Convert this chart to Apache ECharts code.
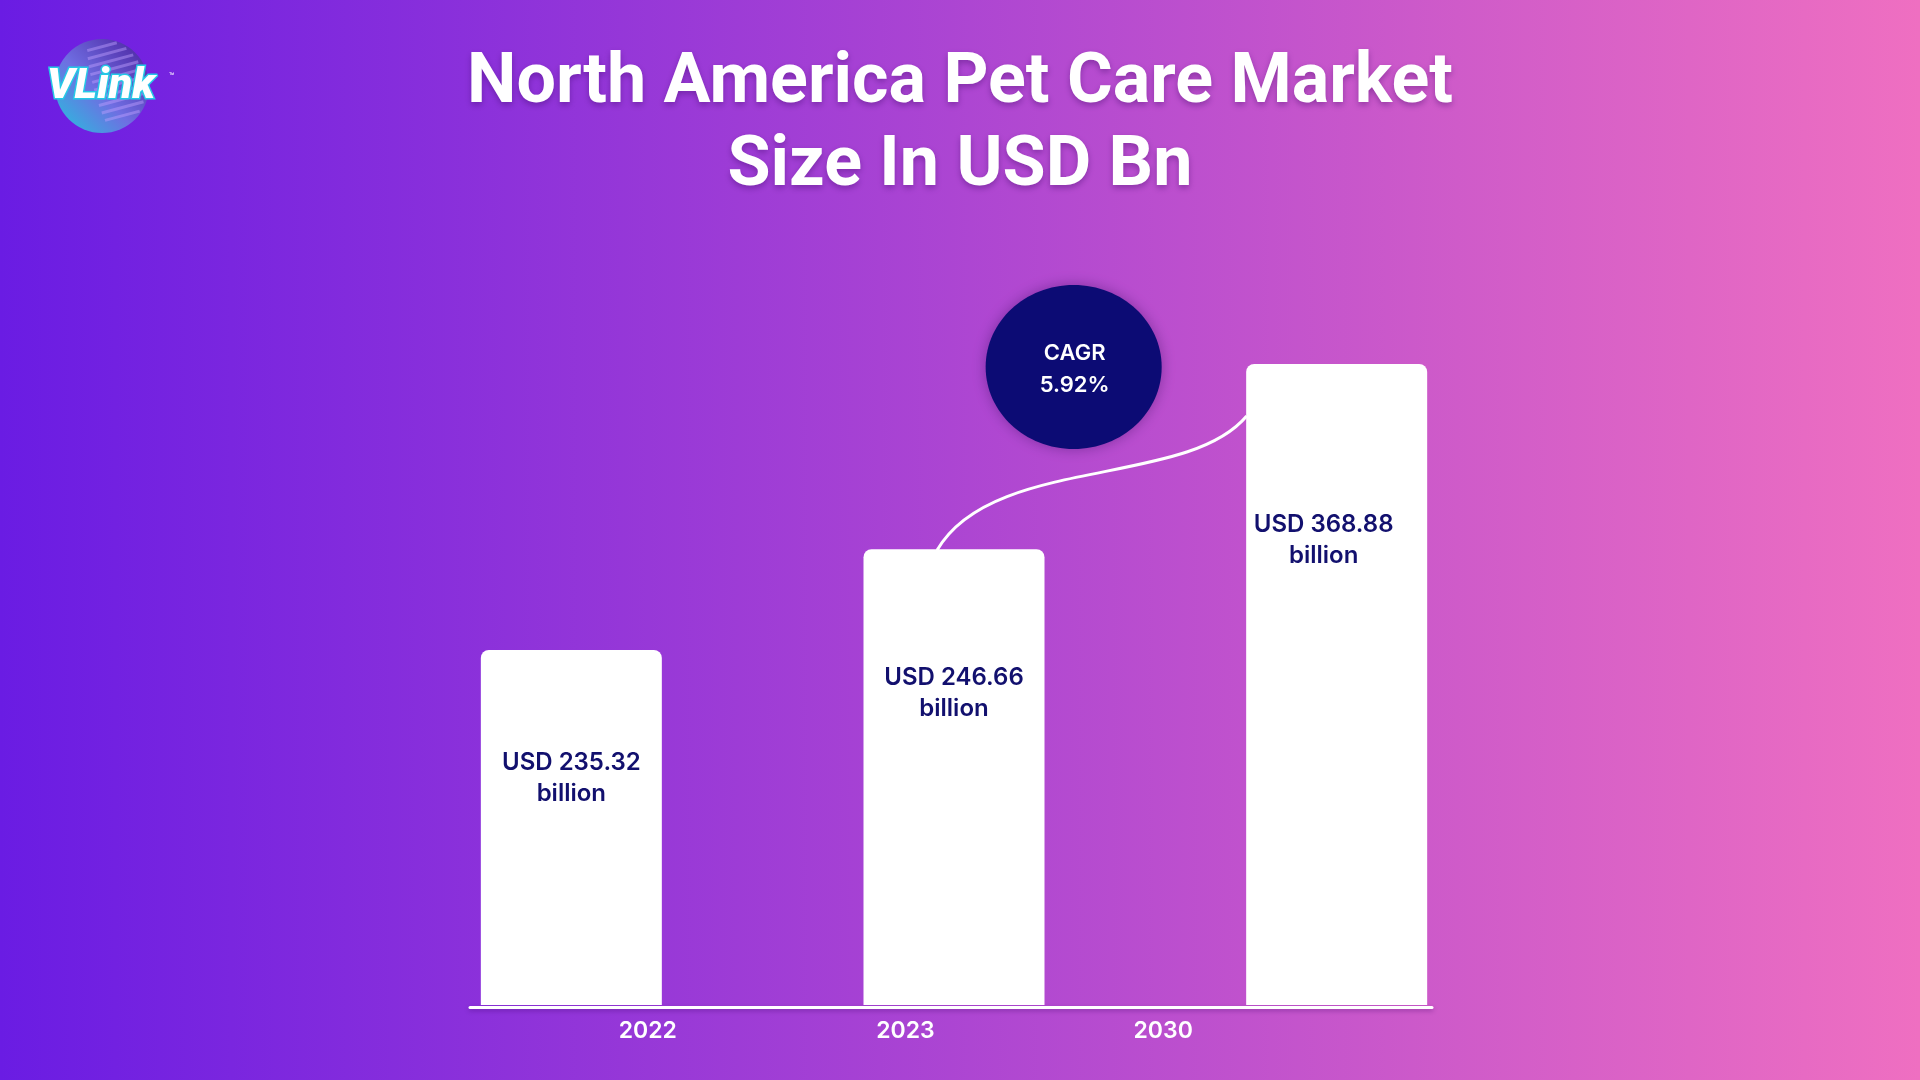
<!DOCTYPE html>
<html><head><meta charset="utf-8">
<script src="https://cdn.jsdelivr.net/npm/echarts@6/dist/echarts.min.js"></script>
<style>html,body{margin:0;padding:0;width:1920px;height:1080px;overflow:hidden}#c{width:1920px;height:1080px}</style>
</head><body><div id="c"></div>
<script>
// ---- data ----
const titleLines = ['North America Pet Care Market', 'Size In USD Bn'];
const categories = ['2022', '2023', '2030'];
const valuesUSDBn = [235.32, 246.66, 368.88];
const barLevels = [55.4, 71.1, 100];      // drawn bar heights, % of the tallest bar
const cagrLines = ['CAGR', '5.92%'];
const logoText = 'VLink';

// ---- layout (kept apart from data) ----
const labelDistance = [97, 113, 145];
const labelShift = [[0, 0], [0, 0], [-13, 0]];

const chart = echarts.init(document.getElementById('c'), null, {renderer: 'canvas'});

const navy = '#12106e';
const hidden = {show: false};

const option = {
  animation: false,
  title: {
    text: titleLines.join('\n'),
    left: 'center', top: 38,
    textStyle: {
      color: '#ffffff', fontFamily: 'Roboto', fontWeight: 'bold', fontSize: 70, lineHeight: 83,
      textShadowColor: 'rgba(50,0,90,0.35)', textShadowBlur: 6, textShadowOffsetY: 3
    }
  },
  grid: [
    {left: 380, width: 1148, top: 364, bottom: 75},
    {left: 470, width: 962, top: 364, bottom: 72.5},
    {left: 519, width: 773, top: 364, bottom: 72.5}
  ],
  xAxis: [
    {type: 'category', gridIndex: 0, data: categories, axisLine: hidden, axisTick: hidden, axisLabel: hidden},
    {type: 'value', gridIndex: 1, min: 0, max: 1, splitLine: hidden, axisTick: hidden, axisLabel: hidden,
     axisLine: {show: true, onZero: false, lineStyle: {color: '#ffffff', width: 3,
       shadowColor: 'rgba(60,0,100,0.35)', shadowBlur: 4, shadowOffsetY: 2}}},
    {type: 'category', gridIndex: 2, data: categories, axisLine: hidden, axisTick: hidden,
     axisLabel: {color: '#ffffff', fontFamily: 'Inter', fontWeight: 600, fontSize: 23, margin: 12}}
  ],
  yAxis: [
    {type: 'value', gridIndex: 0, min: 0, max: 100, show: false},
    {type: 'value', gridIndex: 1, min: 0, max: 1, show: false},
    {type: 'value', gridIndex: 2, min: 0, max: 1, show: false}
  ],
  series: [{
    type: 'bar',
    xAxisIndex: 0, yAxisIndex: 0,
    barWidth: 181,
    itemStyle: {color: '#ffffff', borderRadius: [8, 8, 0, 0]},
    data: barLevels.map((v, i) => ({
      value: v,
      label: {distance: labelDistance[i], offset: labelShift[i]}
    })),
    label: {
      show: true, position: 'insideTop',
      color: navy, fontFamily: 'Inter', fontWeight: 600, fontSize: 24, lineHeight: 31, align: 'center',
      formatter: p => 'USD ' + valuesUSDBn[p.dataIndex].toFixed(2) + '\nbillion'
    }
  }]
};
chart.setOption(option);

// decorations anchored to the bars' pixel positions
const p2 = chart.convertToPixel({seriesIndex: 0}, [1, barLevels[1]]);
const p3 = chart.convertToPixel({seriesIndex: 0}, [2, barLevels[2]]);
const start = [p2[0] - 17, p2[1] + 1];
const end = [p3[0] - 90, p3[1] + 52];
const cc = [p3[0] - 263, p3[1] + 3];

// logo stripes
const lc = [102, 86], lr = 47;
const ang = -15 * Math.PI / 180;
const u = [Math.cos(ang), Math.sin(ang)], n = [-Math.sin(ang), Math.cos(ang)];
const stripes = [];
for (let d = -38; d <= 38; d += 8) {
  const h = Math.sqrt(lr * lr - d * d) * 0.92;
  const m = [lc[0] + n[0] * d, lc[1] + n[1] * d];
  stripes.push({
    type: 'line', silent: true, z: 1,
    shape: {x1: m[0] - u[0] * h * 0.2, y1: m[1] - u[1] * h * 0.2, x2: m[0] + u[0] * h, y2: m[1] + u[1] * h},
    style: {stroke: 'rgba(190,160,255,0.45)', lineWidth: 3}
  });
}

chart.setOption({
  graphic: [
    {type: 'rect', z: -100, silent: true, shape: {x: 0, y: 0, width: 1920, height: 1080},
     style: {fill: {type: 'linear', x: 0, y: 0, x2: 1, y2: 0,
       colorStops: [{offset: 0, color: '#6a1ce3'}, {offset: 1, color: '#ef6fc1'}]}}},
    {type: 'circle', z: 0, silent: true, shape: {cx: lc[0], cy: lc[1], r: lr},
     style: {fill: {type: 'linear', x: 0, y: 1, x2: 1, y2: 0,
       colorStops: [{offset: 0, color: '#22c4de'}, {offset: 0.45, color: '#6f6ee2'}, {offset: 1, color: '#4a1e9c'}]}}},
    ...stripes,
    {type: 'text', z: 2, silent: true, x: 101, y: 87,
     style: {text: logoText, fill: '#ffffff', stroke: '#25c9e6', lineWidth: 3,
       fontFamily: 'Roboto', fontWeight: 900, fontStyle: 'italic', fontSize: 43,
       align: 'center', verticalAlign: 'middle'}},
    {type: 'text', z: 2, silent: true, x: 169, y: 72,
     style: {text: '™', fill: '#ffffff', fontSize: 9, fontFamily: 'Roboto'}},
    {type: 'bezierCurve', z: 1, silent: true,
     shape: {x1: start[0], y1: start[1], cpx1: start[0] + 55, cpy1: start[1] - 95,
             cpx2: end[0] - 60, cpy2: end[1] + 72, x2: end[0], y2: end[1]},
     style: {stroke: '#ffffff', lineWidth: 3, fill: null}},
    {type: 'ellipse', z: 3, silent: true, shape: {cx: cc[0], cy: cc[1], rx: 88, ry: 82},
     style: {fill: '#0c0b74', shadowBlur: 14, shadowColor: 'rgba(30,0,70,0.35)'}},
    {type: 'text', z: 4, silent: true, x: cc[0] + 1, y: cc[1] + 2,
     style: {text: cagrLines.join('\n'), fill: '#ffffff', fontFamily: 'Inter', fontWeight: 600,
       fontSize: 22, lineHeight: 32, align: 'center', verticalAlign: 'middle'}}
  ]
});
</script></body></html>
